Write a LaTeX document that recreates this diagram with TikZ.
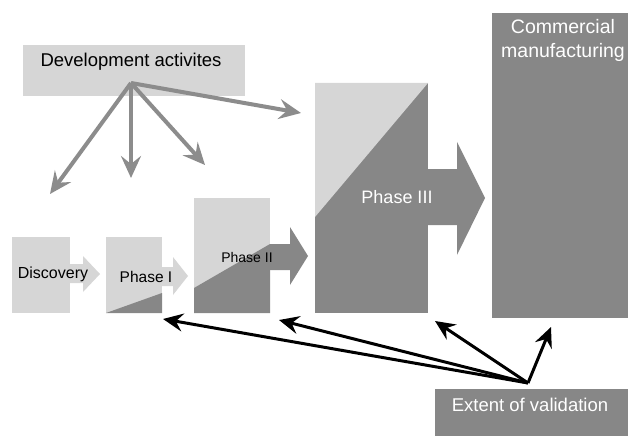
\documentclass[tikz,border=0pt]{standalone}
\usepackage{fontspec}
\setmainfont{Liberation Sans}
\usepackage{xcolor}
\usetikzlibrary{arrows.meta}
\definecolor{lightgr}{gray}{0.84}
\definecolor{darkgr}{gray}{0.53}
\definecolor{arrowgr}{gray}{0.55}
\newcommand{\fs}[1]{\fontsize{#1}{#1}\selectfont}
\begin{document}
\begin{tikzpicture}[x=1pt,y=-1pt,
  lightbox/.style={fill=lightgr, draw=none, inner sep=0pt},
  darkbox/.style={fill=darkgr, draw=none, inner sep=0pt},
  devarrow/.style={draw=arrowgr, line width=4pt, -{Stealth[length=22pt,width=20pt,inset=8pt]}},
  valarrow/.style={draw=black, line width=3pt, -{Stealth[length=20pt,width=18pt,inset=7pt]}}]
\useasboundingbox (0,0) rectangle (630,436);
% boxes
\node[lightbox, minimum width=222pt, minimum height=51pt] (dev) at (134,70.5) {};
\node[lightbox, minimum width=58pt, minimum height=76pt] (disc) at (41,275) {};
\node[lightbox, minimum width=56pt, minimum height=76pt] (ph1) at (134,275) {};
\node[lightbox, minimum width=76pt, minimum height=115pt] (ph2) at (232,255.5) {};
\node[darkbox, minimum width=113pt, minimum height=230pt] (ph3) at (371.5,198) {};
\node[darkbox, minimum width=136pt, minimum height=305pt] (comm) at (560,165.5) {};
\node[darkbox, minimum width=193pt, minimum height=47pt] (val) at (531.5,412.5) {};
%
\fill[darkgr] (106,313)--(162,313)--(162,293)--cycle;
\fill[darkgr] (194,313)--(194,288)--(270,244)--(270,313)--cycle;
\fill[lightgr] (315,83)--(428,83)--(315,217)--cycle;
% block arrows
\fill[lightgr] (70,264)--(83,264)--(83,256)--(100,274)--(83,292)--(83,283)--(70,283)--cycle;
\fill[lightgr] (162,267)--(173,267)--(173,257)--(188,276)--(173,295)--(173,286)--(162,286)--cycle;
\fill[darkgr] (270,244)--(290,244)--(290,227)--(308,256)--(290,285)--(290,270)--(270,270)--cycle;
\fill[darkgr] (428,169)--(457,169)--(457,142)--(485,198)--(457,255)--(457,225)--(428,225)--cycle;
% labels
\node (devtext) at (131,62) {\fs{18.5}Development activites};
\node (disctext) at (53,274) {\fs{16}Discovery};
\node (ph1text) at (146,277) {\fs{15.5}Phase I};
\node (ph2text) at (247,257) {\fs{14}Phase II};
\node[white] (ph3text) at (397,197) {\fs{18}Phase III};
\node[white, align=center, font=\fontsize{19.5}{24}\selectfont] (commtext) at (563,40) {Commercial\\manufacturing};
\node[white] (valtext) at (530,405) {\fs{18.5}Extent of validation};
% development arrows
\coordinate (devhub) at (131,83);
\coordinate (toDisc) at (50,194);
\coordinate (toPh1) at (131,178);
\coordinate (toPh2) at (205,165);
\coordinate (toPh3) at (301,113);
\foreach \t in {toDisc,toPh1,toPh2,toPh3}
  \draw[devarrow] (devhub)--(\t);
% validation arrows
\coordinate (valhub) at (528,383);
\coordinate (vPh1) at (163,319);
\coordinate (vPh2) at (279,320);
\coordinate (vPh3) at (435,321);
\coordinate (vComm) at (551,327);
\foreach \t in {vPh1,vPh2,vPh3,vComm}
  \draw[valarrow] (valhub)--(\t);
\end{tikzpicture}
\end{document}
